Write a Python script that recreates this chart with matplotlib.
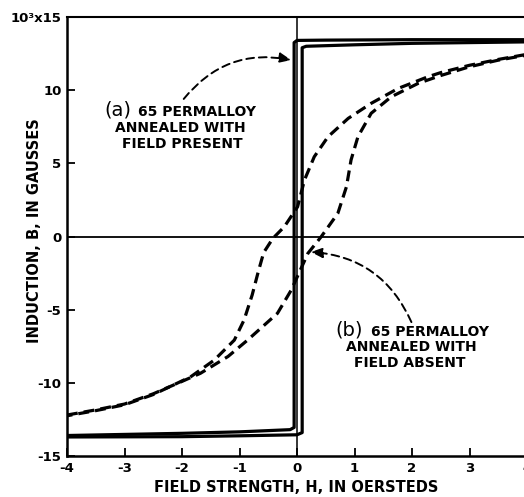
import numpy as np
import matplotlib
matplotlib.use("Agg")
import matplotlib.pyplot as plt

plt.rcParams['font.family'] = ['DejaVu Sans']
plt.rcParams['font.weight'] = 'bold'
plt.rcParams['axes.unicode_minus'] = False

# (a) field-annealed: square loop (H in oersteds, B in kilogauss)
sq_desc_H = [4.0, 2.0, 0.5, 0.0, -0.05, -0.05, -0.12, -1.0, -2.0, -4.0]
sq_desc_B = [13.45, 13.45, 13.42, 13.4, 13.25, -13.05, -13.2, -13.35, -13.45, -13.6]
sq_asc_H = [-4.0, -2.0, -1.0, 0.0, 0.09, 0.09, 0.16, 1.0, 2.0, 4.0]
sq_asc_B = [-13.7, -13.68, -13.62, -13.55, -13.4, 12.9, 13.0, 13.1, 13.2, 13.3]

# (b) no field: sheared S-shaped loop
dsh_desc_H = [4.0, 3.5, 3.0, 2.5, 2.28, 1.76, 1.29, 0.89, 0.54, 0.30, 0.13, 0.01,
              -0.22, -0.42, -0.58, -0.68, -0.78, -0.92, -1.09, -1.44, -1.85, -2.5,
              -3.0, -3.5, -4.0]
dsh_desc_B = [12.45, 12.1, 11.7, 11.2, 10.92, 10.12, 9.1, 8.07, 6.82, 5.45, 3.86,
              2.03, 0.67, -0.13, -1.1, -2.5, -4.0, -5.7, -7.08, -8.45, -9.59, -10.8,
              -11.5, -11.9, -12.25]
dsh_asc_H = [-4.0, -3.5, -3.0, -2.5, -2.0, -1.68, -1.2, -0.86, -0.34, -0.10, 0.19,
             0.42, 0.71, 0.86, 0.94, 1.06, 1.29, 1.64, 2.11, 2.5, 3.0, 3.5, 4.0]
dsh_asc_B = [-12.2, -11.85, -11.45, -10.75, -9.9, -9.35, -8.2, -7.08, -5.25, -3.66,
             -1.15, -0.02, 1.58, 3.4, 5.23, 6.82, 8.42, 9.55, 10.47, 11.0, 11.6,
             12.05, 12.4]

x_ticks = [-4, -3, -2, -1, 0, 1, 2, 3, 4]
y_ticks = [-15, -10, -5, 0, 5, 10, 15]
y_ticklabels = ['-15', '-10', '-5', '0', '5', '10', '10³x15']

fig = plt.figure(figsize=(5.24, 4.97), dpi=100, facecolor='white')
ax = fig.add_axes([67/524, 41/497, 460/524, 439/497])

ax.axhline(0, color='black', lw=1.3, zorder=1)
ax.axvline(0, color='black', lw=1.1, zorder=1)

ax.plot(sq_desc_H, sq_desc_B, color='black', lw=2.3, solid_joinstyle='round', zorder=3)
ax.plot(sq_asc_H, sq_asc_B, color='black', lw=2.3, solid_joinstyle='round', zorder=3)

ax.plot(dsh_desc_H, dsh_desc_B, color='black', lw=2.3, ls=(0, (3.4, 1.9)), zorder=2)
ax.plot(dsh_asc_H, dsh_asc_B, color='black', lw=2.3, ls=(0, (3.4, 1.9)), zorder=2)

ax.set_xlim(-4, 4)
ax.set_ylim(-15, 15)
ax.set_xticks(x_ticks)
ax.set_yticks(y_ticks)
ax.set_yticklabels(y_ticklabels)
ax.tick_params(direction='in', length=6, width=1.3, labelsize=9.5, pad=4)
for lab in ax.get_xticklabels() + ax.get_yticklabels():
    lab.set_fontweight('bold')

ax.spines['left'].set_linewidth(1.8)
ax.spines['bottom'].set_linewidth(1.8)
ax.spines['top'].set_linewidth(1.5)
ax.spines['right'].set_visible(False)

ax.set_xlabel("FIELD STRENGTH, H, IN OERSTEDS", fontsize=10.5, fontweight='bold')
ax.xaxis.set_label_coords((296 - 67) / 460, -(488 - 456) / 439)
ax.xaxis.label.set_verticalalignment('center')
ax.set_ylabel("INDUCTION, B, IN GAUSSES", fontsize=10.5, fontweight='bold')
ax.yaxis.set_label_coords(-(67 - 35) / 460, (456 - 231) / 439)
ax.yaxis.label.set_verticalalignment('center')

# annotation (a)
fs_ann = 10
ax.text(-3.12, 8.64, "(a)", fontsize=14, fontweight='normal', ha='center', va='center')
ax.text(-2.76, 8.5, "65 PERMALLOY", fontsize=fs_ann, fontweight='bold', ha='left', va='center')
ax.text(-2.03, 7.42, "ANNEALED WITH", fontsize=fs_ann, fontweight='bold', ha='center', va='center')
ax.text(-2.0, 6.33, "FIELD PRESENT", fontsize=fs_ann, fontweight='bold', ha='center', va='center')
ax.annotate("", xy=(-0.10, 12.06), xytext=(-1.97, 9.4),
            arrowprops=dict(arrowstyle='-|>,head_length=0.7,head_width=0.3',
                            linestyle=(0, (4, 2.5)), lw=1.4, color='black',
                            fc='black', connectionstyle='arc3,rad=-0.3',
                            shrinkA=0, shrinkB=0))

# annotation (b)
ax.text(0.90, -6.39, "(b)", fontsize=14, fontweight='normal', ha='center', va='center')
ax.text(1.29, -6.5, "65 PERMALLOY", fontsize=fs_ann, fontweight='bold', ha='left', va='center')
ax.text(1.98, -7.56, "ANNEALED WITH", fontsize=fs_ann, fontweight='bold', ha='center', va='center')
ax.text(1.96, -8.65, "FIELD ABSENT", fontsize=fs_ann, fontweight='bold', ha='center', va='center')
ax.annotate("", xy=(0.24, -1.06), xytext=(1.99, -5.85),
            arrowprops=dict(arrowstyle='-|>,head_length=0.7,head_width=0.3',
                            linestyle=(0, (4, 2.5)), lw=1.4, color='black',
                            fc='black', connectionstyle='arc3,rad=0.3',
                            shrinkA=0, shrinkB=0))

fig.savefig("out.png", dpi=100, facecolor='white')
